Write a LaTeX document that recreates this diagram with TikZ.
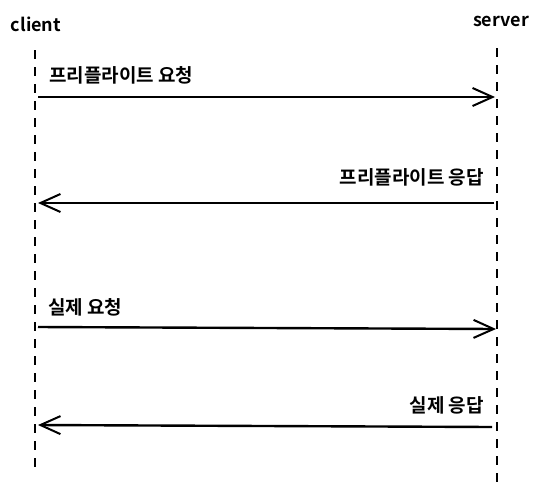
\documentclass[tikz,border=0pt]{standalone}
\usepackage{fontspec}
\setmainfont{Noto Sans CJK KR}[BoldFont={* Bold}]
\usetikzlibrary{arrows.meta}
\begin{document}
\begin{tikzpicture}[x=1pt,y=-1pt,
  lbl/.style={font=\bfseries\fontsize{18}{20}\selectfont, inner sep=0pt},
  klbl/.style={font=\bfseries\fontsize{19}{21}\selectfont, inner sep=0pt},
  life/.style={line width=1.8pt, dash pattern=on 9pt off 8pt},
  msg/.style={line width=2.4pt, -{Straight Barb[length=20pt,width=18pt,line width=2pt]}}]
\useasboundingbox (0,0) rectangle (540,498);
\node[lbl] (client) at (36,24) {client};
\node[lbl] (server) at (501,21) {server};
\coordinate (c0) at (35,50); \coordinate (c1) at (35,470);
\coordinate (s0) at (497,48); \coordinate (s1) at (497,484);
\draw[life] (c0) -- (c1);
\draw[life] (s0) -- (s1);
\coordinate (a1s) at (38,97); \coordinate (a1e) at (495,97);
\coordinate (a2s) at (494,203); \coordinate (a2e) at (38,203);
\coordinate (a3s) at (38,327); \coordinate (a3e) at (496,329);
\coordinate (a4s) at (492,427); \coordinate (a4e) at (38,425);
\draw[msg] (a1s) -- (a1e);
\draw[msg] (a2s) -- (a2e);
\draw[msg] (a3s) -- (a3e);
\draw[msg] (a4s) -- (a4e);
\node[klbl, anchor=west] (l1) at (49,75) {프리플라이트 요청};
\node[klbl, anchor=east] (l2) at (484,177) {프리플라이트 응답};
\node[klbl, anchor=west] (l3) at (48,307) {실제 요청};
\node[klbl, anchor=east] (l4) at (484,405) {실제 응답};
\end{tikzpicture}
\end{document}
